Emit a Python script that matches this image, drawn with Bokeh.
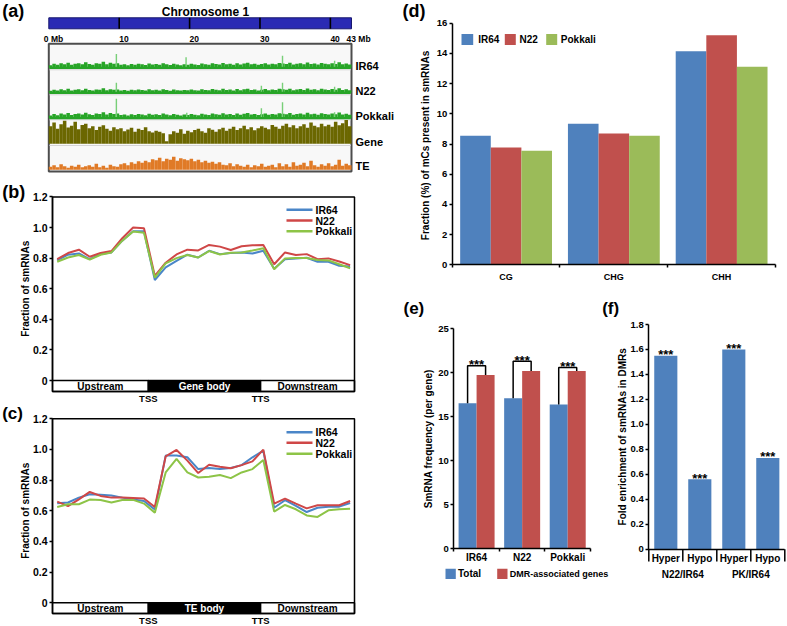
import math
from bokeh.plotting import figure
from bokeh.models import Range1d, LinearAxis, FixedTicker, Label
from bokeh.layouts import row, column
from bokeh.embed import file_html
from bokeh.resources import INLINE
from bokeh.core.properties import value

FONT = "Liberation Sans"

# ---------------- data ----------------
# (a) chromosome 1 density tracks, 0.5-Mb bins (percent of track height)
chrom_len_mb = 43
bin_mb = 0.5
mb_ticks = [0, 10, 20, 30, 40, 43]
mb_tick_labels = ["0 Mb", "10", "20", "30", "40", "43 Mb"]
track_names = ["IR64", "N22", "Pokkali", "Gene", "TE"]
ir64_track = [10,16,12,18,14,20,12,16,18,14, 22,15,12,18,16,24,14,20,16,18,
              12,14,10,15,12,16,14,11,17,13, 15,12,18,14,11,16,13,10,14,12,
              16,13,11,17,14,12,18,15,13,19, 14,16,12,18,13,17,20,14,16,12,
              15,18,13,16,14,19,17,15,20,13, 16,18,14,21,15,17,13,19,16,14,
              18,15,22,14,17,13]
n22_track = [8,12,9,14,10,16,9,12,14,10, 16,11,9,13,12,18,10,14,12,13,
             9,11,8,12,10,13,11,9,14,10, 12,9,14,11,8,13,10,9,11,10,
             13,10,9,14,11,10,15,12,10,16, 11,13,9,15,10,14,16,11,13,9,
             12,15,10,13,11,16,14,12,16,10, 13,15,11,17,12,14,10,16,13,11,
             15,12,18,11,14,10]
pokkali_track = [11,17,12,19,15,21,13,17,19,15, 22,16,13,19,17,24,15,21,17,19,
                 13,15,11,16,13,17,15,12,18,14, 16,13,19,15,12,17,14,11,15,13,
                 17,14,12,18,15,13,19,16,14,20, 15,17,13,19,14,18,21,15,17,13,
                 16,19,14,17,15,20,18,16,21,14, 17,19,15,22,16,18,14,20,17,15,
                 19,16,23,15,18,14]
gene_track = [70,85,60,78,92,65,72,88,58,75, 80,62,70,55,68,74,60,52,66,58,
              62,50,57,64,48,60,55,66,50,45, 52,48,42,10,38,50,44,58,40,52,
              46,55,60,50,44,62,56,48,58,64, 52,60,68,55,62,72,58,66,54,62,
              70,64,58,75,68,60,72,80,66,74, 62,70,78,64,85,72,66,80,70,76,
              68,88,74,82,95,70]
te_track = [12,18,10,22,14,8,16,12,20,10, 14,18,12,24,10,16,8,20,14,12,
            22,26,18,30,24,34,28,36,30,42, 38,48,34,44,40,52,36,46,42,38,
            44,34,40,30,36,28,32,24,30,20, 18,26,14,22,16,12,20,10,18,14,
            24,12,16,20,10,26,14,22,12,30, 16,20,28,14,36,18,12,22,16,26,
            14,20,40,16,24,18]
ir64_peaks_mb = [9.6, 19.5, 33.2, 40.6]
ir64_peaks = [55, 42, 48, 28]
n22_peaks_mb = [9.6, 30.2, 33.2, 40.6]
n22_peaks = [40, 28, 40, 24]
pokkali_peaks_mb = [9.6, 19.6, 30.2, 33.2, 40.6]
pokkali_peaks = [78, 22, 40, 64, 24]

# (b),(c) metaprofiles of smRNA fraction
profile_bins = list(range(28))
tss_bin, tts_bin = 8.4, 18.75
cultivars = ["IR64", "N22", "Pokkali"]
regions_gene = ["Upstream", "Gene body", "Downstream"]
regions_te = ["Upstream", "TE body", "Downstream"]
frac_ticks = [0, 0.2, 0.4, 0.6, 0.8, 1.0, 1.2]
gene_ir64 = [0.785,0.822,0.830,0.793,0.826,0.837,0.914,0.976,0.976,0.657,0.740,0.782,0.822,0.804,
             0.848,0.826,0.833,0.837,0.830,0.848,0.730,0.793,0.798,0.802,0.776,0.776,0.750,0.745]
gene_n22 = [0.793,0.833,0.855,0.809,0.833,0.846,0.930,1.000,0.995,0.684,0.770,0.824,0.855,0.850,
            0.886,0.875,0.853,0.877,0.884,0.886,0.760,0.837,0.820,0.826,0.793,0.798,0.778,0.754]
gene_pokkali = [0.776,0.804,0.820,0.790,0.822,0.837,0.914,0.974,0.965,0.673,0.765,0.800,0.820,0.804,
                0.846,0.824,0.835,0.837,0.850,0.864,0.727,0.798,0.800,0.800,0.787,0.785,0.760,0.734]
te_ir64 = [0.650,0.654,0.686,0.708,0.704,0.700,0.686,0.673,0.664,0.608,0.960,0.960,0.949,0.872,
           0.879,0.872,0.879,0.898,0.949,0.992,0.620,0.669,0.632,0.592,0.620,0.627,0.627,0.651]
te_n22 = [0.660,0.630,0.675,0.723,0.697,0.686,0.686,0.684,0.680,0.625,0.955,0.997,0.927,0.846,
          0.900,0.887,0.877,0.898,0.922,0.999,0.647,0.680,0.647,0.616,0.636,0.636,0.636,0.664]
te_pokkali = [0.625,0.643,0.643,0.673,0.671,0.654,0.671,0.671,0.647,0.588,0.850,0.938,0.850,0.817,
              0.822,0.833,0.813,0.850,0.872,0.931,0.595,0.638,0.610,0.570,0.560,0.603,0.610,0.614]

# (d) fraction of mCs present in smRNAs
contexts = ["CG", "CHG", "CHH"]
mc_ir64 = [8.55, 9.34, 14.15]
mc_n22 = [7.77, 8.70, 15.20]
mc_pokkali = [7.55, 8.54, 13.11]

# (e) smRNA frequency per gene
e_cats = ["IR64", "N22", "Pokkali"]
e_series = ["Total", "DMR-associated genes"]
e_total = [16.55, 17.1, 16.4]
e_dmr = [19.75, 20.2, 20.2]
e_bracket = [20.8, 21.3, 20.6]
e_sig = ["***", "***", "***"]

# (f) fold enrichment of smRNAs in DMRs
f_cats = ["Hyper", "Hypo", "Hyper", "Hypo"]
f_groups = ["N22/IR64", "PK/IR64"]
f_vals = [1.55, 0.56, 1.60, 0.73]
f_sig = ["***", "***", "***", "***"]
f_ticks = [0, 0.2, 0.4, 0.6, 0.8, 1.0, 1.2, 1.4, 1.6, 1.8]

BLUE, RED, GREEN = "#4f81bd", "#c0504d", "#9bbb59"
LBLUE, LRED, LGREEN = "#4a86c8", "#cf4747", "#8dc447"


# ---------------- helpers ----------------
class Panel:
    def __init__(self, box, xmap, ymap):
        self.box = box
        self.xmap, self.ymap = xmap, ymap
        x0, y0, x1, y1 = box
        f = figure(width=x1 - x0, height=y1 - y0, output_backend="svg",
                   toolbar_location=None, x_axis_type=None, y_axis_type=None,
                   x_range=Range1d(*self.xr(xmap)), y_range=Range1d(*self.yr(ymap)))
        f.min_border = 0
        f.min_border_left = f.min_border_right = 0
        f.min_border_top = f.min_border_bottom = 0
        f.outline_line_color = None
        f.background_fill_color = "white"
        f.border_fill_color = "white"
        self.fig = f

    @staticmethod
    def lin(m, r):
        ra, va, rb, vb = m
        return va + (r - ra) * (vb - va) / (rb - ra)

    def xr(self, m):
        x0, y0, x1, y1 = self.box
        return (self.lin(m, x0), self.lin(m, x1))

    def yr(self, m):
        x0, y0, x1, y1 = self.box
        return (self.lin(m, y1), self.lin(m, y0))

    def rx(self, r):
        return self.lin(self.xmap, r)

    def ry(self, r):
        return self.lin(self.ymap, r)

    def vpx(self):
        ra, va, rb, vb = self.ymap
        return abs((vb - va) / (rb - ra))


def label(P, x, y, s, size, align="left", baseline="middle", angle=0.0,
          color="black", data_x=False, x_offset=0):
    P.fig.add_layout(Label(x=(x if data_x else P.rx(x)), y=P.ry(y), text=s,
                           text_font=FONT, text_font_size=f"{size}px",
                           text_font_style="bold", text_color=color,
                           text_align=align, text_baseline=baseline,
                           angle=angle, x_offset=x_offset))


def add_axis(P, side, loc, bounds, ticks, overrides=None, minor=None, tick_out=3,
             minor_out=0, standoff=2, size="10px", line=True):
    ax = LinearAxis(fixed_location=loc, bounds=bounds,
                    ticker=FixedTicker(ticks=ticks, minor_ticks=minor or []))
    ax.axis_line_color = "black" if line else None
    ax.axis_line_width = 1.5
    ax.major_tick_line_color = "black" if tick_out else None
    ax.major_tick_line_width = 1.5
    ax.major_tick_out = tick_out
    ax.major_tick_in = 0
    ax.minor_tick_line_color = "black" if minor else None
    ax.minor_tick_line_width = 1.5
    ax.minor_tick_out = minor_out
    ax.minor_tick_in = 0
    ax.major_label_standoff = standoff
    ax.major_label_text_font = FONT
    ax.major_label_text_font_size = size
    ax.major_label_text_font_style = "bold"
    ax.major_label_text_color = "black"
    if overrides:
        ax.major_label_overrides = overrides
    P.fig.add_layout(ax, side)
    return ax


def dec_labels(ticks):
    return {t: ("0" if t == 0 else f"{t:.1f}") for t in ticks}


# ---------------- (a) ----------------
A = Panel((0, 0, 400, 179), (48.3, 0.0, 351.0, float(chrom_len_mb)), (0, 0, 100, 100))
pa = A.fig
label(A, 1.7, 10.5, "(a)", 18)
label(A, 205, 11.5, "Chromosome 1", 12, align="center")
pa.quad(left=[0], right=[chrom_len_mb], top=[17.3], bottom=[28.3],
        fill_color="#2a2ab4", line_color="#18186e", line_width=1)
inner = mb_ticks[1:-1]
pa.segment(x0=inner, x1=inner, y0=[17.3] * len(inner), y1=[28.3] * len(inner),
           line_color="black", line_width=1.6)
for m, t in zip(mb_ticks, mb_tick_labels):
    off = -5 if t.endswith("Mb") else 0
    label(A, m, 38.3, t, 8.5, data_x=True, x_offset=off)

pa.quad(left=[0], right=[chrom_len_mb], top=[43.3], bottom=[171.0],
        fill_color="#f8f8f8", line_color="#4d4d4d", line_width=2)
seps = [69.3, 94.3, 119.3, 145.0]
pa.segment(x0=[0.1] * 4, x1=[chrom_len_mb - 0.1] * 4, y0=seps, y1=seps,
           line_color="#d4d4d4", line_width=1)

baselines = [67.3, 92.3, 117.7, 143.3, 169.3]
track_vals = [ir64_track, n22_track, pokkali_track, gene_track, te_track]
track_cols = ["#27a527", "#27a527", "#27a527", "#6b6700", "#e07a26"]
peaks = [(ir64_peaks_mb, ir64_peaks), (n22_peaks_mb, n22_peaks),
         (pokkali_peaks_mb, pokkali_peaks), None, None]
pa.extra_y_ranges = {f"t{k}": Range1d(*A.yr((b, 0, b - 25, 100))) for k, b in enumerate(baselines)}
centers = [(i + 0.5) * bin_mb for i in range(len(ir64_track))]
for k, vals in enumerate(track_vals):
    rn = f"t{k}"
    pa.vbar(x=centers, top=vals, bottom=0, width=bin_mb, y_range_name=rn,
            fill_color=track_cols[k], line_color=None)
    if peaks[k] is not None:
        pmb, ph = peaks[k]
        pa.vbar(x=pmb, top=ph, bottom=0, width=0.2, y_range_name=rn,
                fill_color="#78cf78", line_color=None)
        pa.segment(x0=[0.1], x1=[chrom_len_mb - 0.1], y0=[0], y1=[0], y_range_name=rn,
                   line_color=track_cols[k], line_width=2.2)
for name, yy in zip(track_names, [65, 90.7, 115.7, 141.7, 165.7]):
    label(A, 355, yy, name, 11)


# ---------------- (b) and (c) ----------------
def profile_panel(box, ymap, tag, tag_y, tag_size, reg_names, s_ir64, s_n22, s_pok,
                  zero_y, bar_bottom, top_y, legend_ys):
    P = Panel(box, (56.7, 0, 349.6, 27), ymap)
    p = P.fig
    label(P, 1.7, tag_y, tag, tag_size)
    left, right = P.rx(52), P.rx(354)
    bb = P.ry(bar_bottom)
    p.quad(left=[left, tss_bin, tts_bin], right=[tss_bin, tts_bin, right],
           top=[0, 0, 0], bottom=[bb, bb, bb],
           fill_color=["white", "black", "white"], line_color="black", line_width=1.5)
    p.quad(left=[left], right=[right], top=[1.2], bottom=[bb], fill_color=None,
           line_color="black", line_width=1.5)
    cx = [(left + tss_bin) / 2, (tss_bin + tts_bin) / 2, (tts_bin + right) / 2]
    for x, t, c in zip(cx, reg_names, ["black", "white", "black"]):
        label(P, x, (zero_y + bar_bottom) / 2, t, 10, align="center", color=c, data_x=True)
    for s, c in [(s_ir64, LBLUE), (s_n22, LRED), (s_pok, LGREEN)]:
        p.line(x=profile_bins, y=s, line_color=c, line_width=2)
    for name, c, ly in zip(cultivars, [LBLUE, LRED, LGREEN], legend_ys):
        p.segment(x0=[P.rx(286)], x1=[P.rx(312)], y0=[P.ry(ly)], y1=[P.ry(ly)],
                  line_color=c, line_width=2.5)
        label(P, 315, ly, name, 10.5)
    add_axis(P, "left", left, (0, 1.2), frac_ticks, overrides=dec_labels(frac_ticks),
             tick_out=3, standoff=2, size="10.5px")
    add_axis(P, "below", bb, (tss_bin, tts_bin), [tss_bin, tts_bin],
             overrides={tss_bin: "TSS", tts_bin: "TTS"}, tick_out=0, standoff=1,
             size="9.5px", line=False)
    label(P, 25, (zero_y + top_y) / 2, "Fraction of smRNAs", 10, align="center",
          angle=math.pi / 2)
    return P


B = profile_panel((0, 179, 400, 403), (380, 0.0, 196.4, 1.2), "(b)", 191, 18, regions_gene,
                  gene_ir64, gene_n22, gene_pokkali, 380, 391, 196.4,
                  [209.3, 220.0, 230.7])
C = profile_panel((0, 403, 400, 626), (602.3, 0.0, 418.3, 1.2), "(c)", 413, 17, regions_te,
                  te_ir64, te_n22, te_pokkali, 602.3, 613, 418.3,
                  [431.7, 442.3, 453.3])

# ---------------- (d) ----------------
D = Panel((400, 0, 787, 318), (451.7, -0.5, 775, 2.5), (264.3, 0, 22.7, 16))
pd_ = D.fig
label(D, 402, 10.5, "(d)", 18)
label(D, 403, 307.5, "(e)", 17)
label(D, 601.7, 307.5, "(f)", 17)
bw = 0.284
for k, (vals, c) in enumerate([(mc_ir64, BLUE), (mc_n22, RED), (mc_pokkali, GREEN)]):
    pd_.vbar(x=[i + (k - 1) * bw for i in range(len(contexts))], top=vals, bottom=0,
             width=bw, fill_color=c, line_color=None)
add_axis(D, "left", -0.5, (0, 16), list(range(0, 17, 2)), tick_out=3, standoff=2, size="9.5px")
add_axis(D, "below", 0, (-0.5, 2.5), [0, 1, 2],
         overrides={i: c for i, c in enumerate(contexts)},
         minor=[-0.5, 0.5, 1.5, 2.5], tick_out=0, minor_out=3, standoff=4, size="9px")
for name, c, (sx0, sx1, tx) in zip(cultivars, [BLUE, RED, GREEN],
                                   [(461, 472.7, 477.7), (504.3, 515.3, 519), (545.7, 556.7, 560.3)]):
    pd_.quad(left=[D.rx(sx0)], right=[D.rx(sx1)], top=[D.ry(33.6)], bottom=[D.ry(44.6)],
             fill_color=c, line_color=None)
    label(D, tx, 39.3, name, 10)
label(D, 425, 143.5, "Fraction (%)  of mCs present in smRNAs", 10, align="center",
      angle=math.pi / 2)

# ---------------- (e) ----------------
E = Panel((400, 318, 610, 626), (453.3, -0.5, 590, 2.5), (548.3, 0, 328.3, 25))
pe = E.fig
ew = 0.395
xt = [i - ew / 2 for i in range(len(e_cats))]
xd = [i + ew / 2 for i in range(len(e_cats))]
pe.vbar(x=xt, top=e_total, bottom=0, width=ew, fill_color=BLUE, line_color=None)
pe.vbar(x=xd, top=e_dmr, bottom=0, width=ew, fill_color=RED, line_color=None)
pe.multi_line(xs=[[a, a, b, b] for a, b in zip(xt, xd)],
              ys=[[t, h, h, d] for t, h, d in zip(e_total, e_bracket, e_dmr)],
              line_color="black", line_width=1.5)
pe.text(x=list(range(len(e_cats))), y=[h + 1.0 * E.vpx() for h in e_bracket], text=e_sig,
        text_font=value(FONT), text_font_size=value("13px"), text_font_style="bold",
        text_align="center", text_baseline="alphabetic", text_color="black")
add_axis(E, "left", -0.5, (0, 25), [0, 5, 10, 15, 20, 25], tick_out=3, standoff=2, size="9.5px")
add_axis(E, "below", 0, (-0.5, 2.5), [0, 1, 2],
         overrides={i: c for i, c in enumerate(e_cats)},
         minor=[-0.5, 0.5, 1.5, 2.5], tick_out=0, minor_out=3, standoff=0, size="10px")
for name, c, (sx0, sx1, tx), fs in zip(e_series, [BLUE, RED],
                                       [(445, 455.3, 457.5), (496.7, 507, 509.3)], [10, 9]):
    pe.quad(left=[E.rx(sx0)], right=[E.rx(sx1)], top=[E.ry(568.2)], bottom=[E.ry(578.4)],
            fill_color=c, line_color=None)
    label(E, tx, 573.3, name, fs)
label(E, 428, 438.3, "SmRNA frequency (per gene)", 10, align="center", angle=math.pi / 2)

# ---------------- (f) ----------------
F = Panel((610, 318, 787, 626), (648.3, -0.5, 784.3, 3.5), (548.7, 0, 324, 1.8))
pf = F.fig
fx = list(range(len(f_cats)))
pf.vbar(x=fx, top=f_vals, bottom=0, width=0.68, fill_color=BLUE, line_color=None)
pf.text(x=fx, y=[v + 1.2 * F.vpx() for v in f_vals], text=f_sig,
        text_font=value(FONT), text_font_size=value("13px"), text_font_style="bold",
        text_align="center", text_baseline="alphabetic", text_color="black")
add_axis(F, "left", -0.5, (0, 1.8), f_ticks, overrides=dec_labels(f_ticks),
         tick_out=3, standoff=2, size="9.5px")
add_axis(F, "below", 0, (-0.5, 3.5), fx, overrides={i: c for i, c in enumerate(f_cats)},
         tick_out=0, standoff=4, size="10px")
sep_x = [i - 0.5 for i in range(len(f_cats) + 1)]
pf.segment(x0=sep_x, x1=sep_x, y0=[0] * len(sep_x), y1=[F.ry(561)] * len(sep_x),
           line_color="black", line_width=1.5)
for g, gx in zip(f_groups, [0.5, 2.5]):
    label(F, gx, 574, g, 10, align="center", data_x=True)
label(F, 621.7, 436.3, "Fold enrichment of smRNAs in DMRs", 10, align="center",
      angle=math.pi / 2)

root = row(column(A.fig, B.fig, C.fig), column(D.fig, row(E.fig, F.fig)))
open("out.html", "w").write(file_html(root, INLINE))
